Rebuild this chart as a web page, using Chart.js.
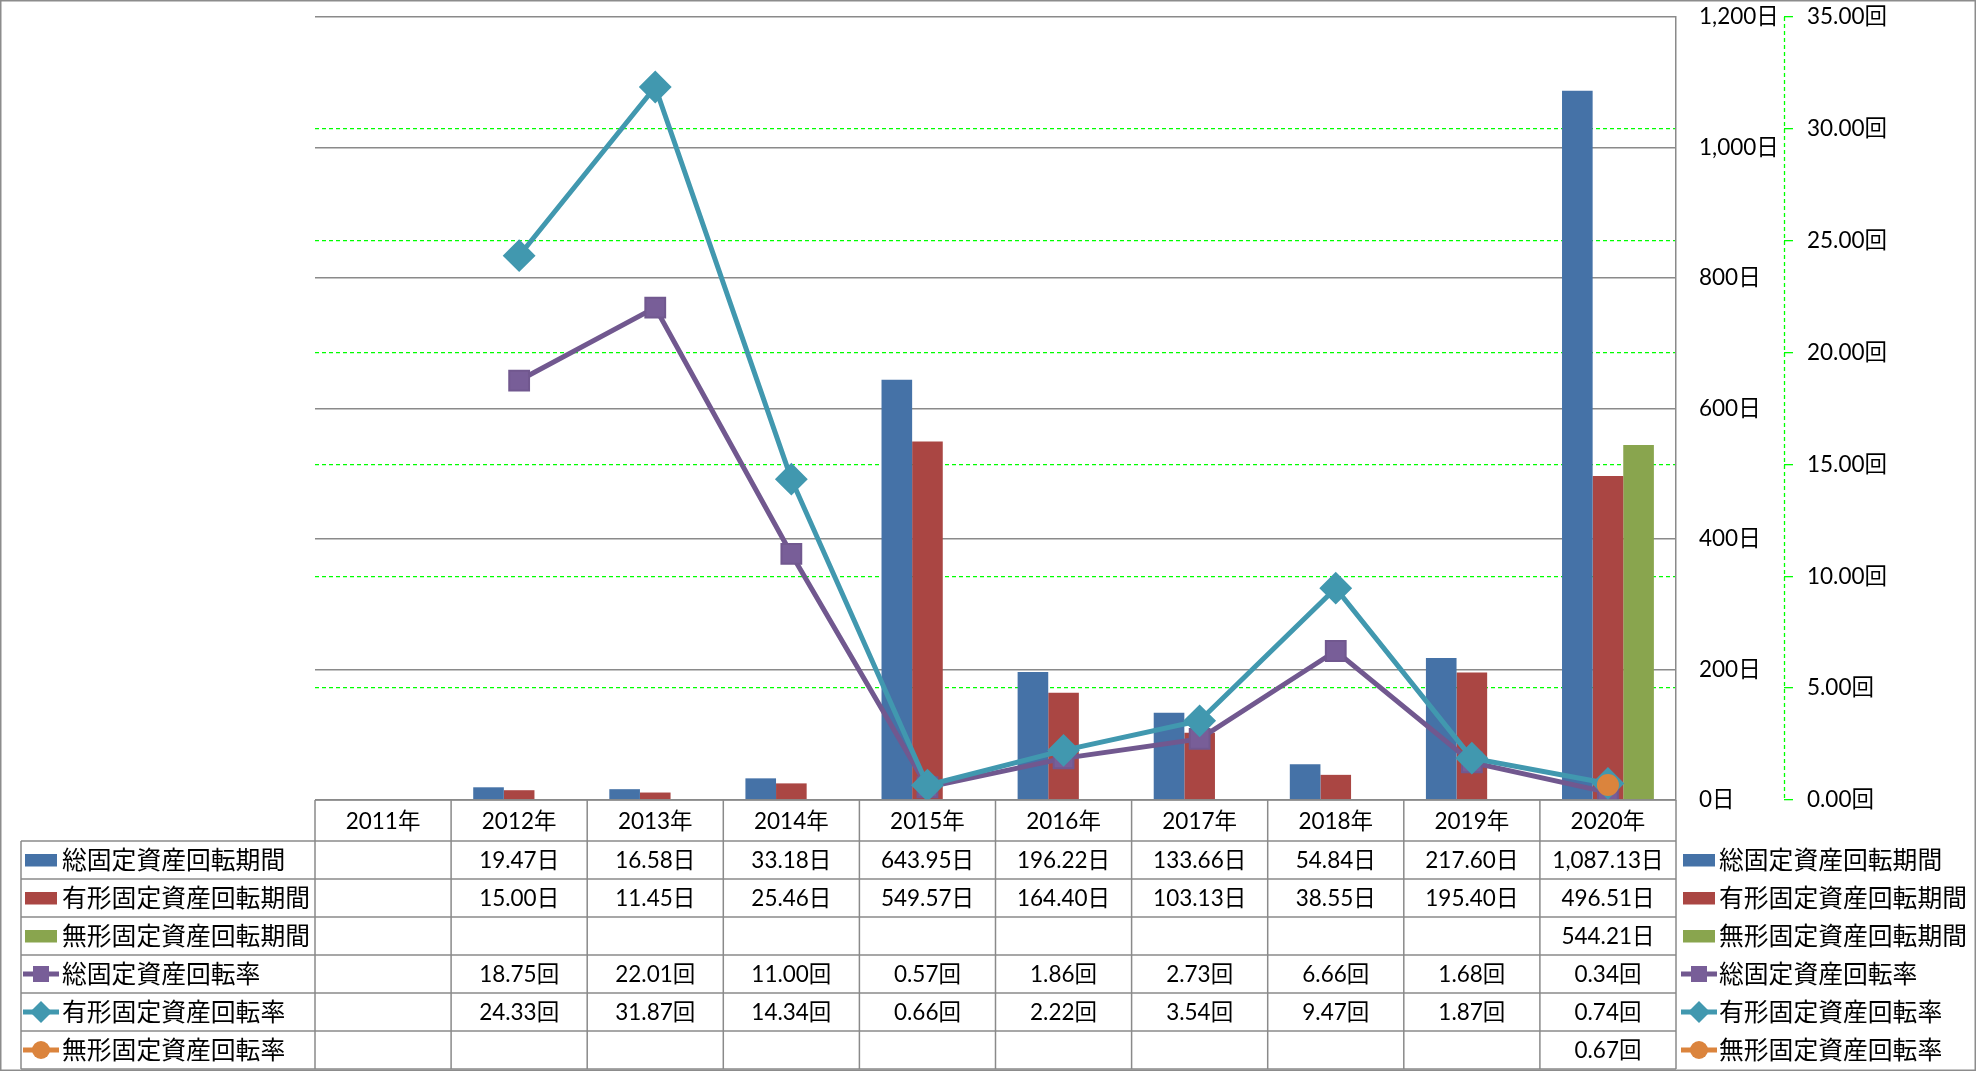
<!DOCTYPE html>
<html><head><meta charset="utf-8">
<script src="https://cdn.jsdelivr.net/npm/chart.js@4/dist/chart.umd.min.js"></script>
<style>html,body{margin:0;padding:0;background:#fff;}#wrap{width:1976px;height:1071px;position:relative;}</style>
</head><body><div id="wrap"><canvas id="c" width="1976" height="1071"></canvas></div>
<script>
const categories = ['2011年','2012年','2013年','2014年','2015年','2016年','2017年','2018年','2019年','2020年'];
const totalPeriod      = [null, 19.47, 16.58, 33.18, 643.95, 196.22, 133.66, 54.84, 217.60, 1087.13];
const tangiblePeriod   = [null, 15.00, 11.45, 25.46, 549.57, 164.40, 103.13, 38.55, 195.40, 496.51];
const intangiblePeriod = [null, null, null, null, null, null, null, null, null, 544.21];
const totalTurnover      = [null, 18.75, 22.01, 11.00, 0.57, 1.86, 2.73, 6.66, 1.68, 0.34];
const tangibleTurnover   = [null, 24.33, 31.87, 14.34, 0.66, 2.22, 3.54, 9.47, 1.87, 0.74];
const intangibleTurnover = [null, null, null, null, null, null, null, null, null, 0.67];
const seriesNames = ['総固定資産回転期間','有形固定資産回転期間','無形固定資産回転期間','総固定資産回転率','有形固定資産回転率','無形固定資産回転率'];
const dayTicks  = [0, 200, 400, 600, 800, 1000, 1200];
const rateTicks = [0, 5, 10, 15, 20, 25, 30, 35];

const C = {blue:'#4572A7', red:'#AA4643', green:'#89A54E', purple:'#71588F', purpleFill:'#785e98', teal:'#4198AF', orange:'#DB843D'};
const GRID = '#8a8a8a';
const NUMFONT = "22.5px Lato, 'Noto Sans CJK JP', sans-serif";
const JPFONT = "24.8px 'Noto Sans CJK JP', sans-serif";

const fmtDay = v => v.toLocaleString('en-US',{minimumFractionDigits:2,maximumFractionDigits:2}) + '日';
const fmtRate = v => v.toFixed(2) + '回';

const tableRows = [
  {name: seriesNames[0], data: totalPeriod, fmt: fmtDay, kind:'bar', color:C.blue},
  {name: seriesNames[1], data: tangiblePeriod, fmt: fmtDay, kind:'bar', color:C.red},
  {name: seriesNames[2], data: intangiblePeriod, fmt: fmtDay, kind:'bar', color:C.green},
  {name: seriesNames[3], data: totalTurnover, fmt: fmtRate, kind:'rect', color:C.purple, fill:C.purpleFill},
  {name: seriesNames[4], data: tangibleTurnover, fmt: fmtRate, kind:'diamond', color:C.teal, fill:C.teal},
  {name: seriesNames[5], data: intangibleTurnover, fmt: fmtRate, kind:'circle', color:C.orange, fill:C.orange},
];

function drawSwatch(ctx, r, cx, cy) {
  ctx.save();
  if (r.kind === 'bar') {
    ctx.fillStyle = r.color;
    ctx.fillRect(cx - 16, cy - 6, 32, 12.5);
  } else {
    ctx.strokeStyle = r.color; ctx.lineWidth = 5;
    ctx.beginPath(); ctx.moveTo(cx - 18, cy); ctx.lineTo(cx + 18, cy); ctx.stroke();
    ctx.fillStyle = r.fill;
    ctx.beginPath();
    if (r.kind === 'rect') { ctx.rect(cx - 8, cy - 8, 16, 16); }
    else if (r.kind === 'diamond') { ctx.moveTo(cx, cy - 11); ctx.lineTo(cx + 11, cy); ctx.lineTo(cx, cy + 11); ctx.lineTo(cx - 11, cy); ctx.closePath(); }
    else { ctx.arc(cx, cy, 9, 0, Math.PI * 2); }
    ctx.fill();
  }
  ctx.restore();
}

const tablePlugin = {
  id: 'dataTable',
  afterDraw(chart) {
    const ctx = chart.ctx;
    const xs = chart.scales.x;
    const ca = chart.chartArea;
    const n = categories.length;
    const colW = (xs.right - xs.left) / n;
    const top = ca.bottom;
    const headerB = top + 41;
    const rowH = 38;
    const bottom = headerB + rowH * tableRows.length;
    const legL = 21;
    ctx.save();
    const y2 = chart.scales.y2;
    ctx.strokeStyle = '#00ff00'; ctx.lineWidth = 1.3; ctx.setLineDash([4,3]);
    ctx.beginPath(); ctx.moveTo(Math.round(y2.left) + 0.5, ca.top); ctx.lineTo(Math.round(y2.left) + 0.5, ca.bottom); ctx.stroke();
    ctx.setLineDash([]);
    ctx.strokeStyle = GRID; ctx.lineWidth = 1.5;
    ctx.beginPath();
    ctx.moveTo(xs.left, top); ctx.lineTo(xs.right, top);
    for (let i = 0; i <= tableRows.length; i++) {
      const y = headerB + rowH * i;
      ctx.moveTo(legL, y); ctx.lineTo(xs.right, y);
    }
    for (let i = 0; i <= n; i++) {
      const x = xs.left + colW * i;
      ctx.moveTo(x, top); ctx.lineTo(x, bottom);
    }
    ctx.moveTo(legL, headerB); ctx.lineTo(legL, bottom);
    ctx.stroke();
    ctx.strokeStyle = '#8c8c8c'; ctx.lineWidth = 1.5;
    ctx.strokeRect(0.75, 0.75, chart.width - 1.5, chart.height - 1.5);
    ctx.fillStyle = '#000'; ctx.textBaseline = 'middle'; ctx.textAlign = 'center';
    ctx.font = NUMFONT;
    categories.forEach((c, i) => {
      ctx.fillText(c, xs.getPixelForValue(i), (top + headerB) / 2 + 1);
    });
    tableRows.forEach((r, ri) => {
      const cy = headerB + rowH * ri + rowH / 2;
      ctx.font = NUMFONT; ctx.textAlign = 'center'; ctx.fillStyle = '#000';
      r.data.forEach((v, i) => {
        if (v === null) return;
        ctx.fillText(r.fmt(v), xs.getPixelForValue(i), cy + 1);
      });
      drawSwatch(ctx, r, 41, cy);
      drawSwatch(ctx, r, 1699, cy);
      ctx.font = JPFONT; ctx.textAlign = 'left'; ctx.fillStyle = '#000';
      ctx.fillText(r.name, 62, cy);
      ctx.fillText(r.name, 1719, cy);
    });
    ctx.restore();
  }
};

const lineBase = {type:'line', yAxisID:'y2', borderWidth:5, tension:0, pointBorderWidth:2, pointHoverRadius:0};

new Chart(document.getElementById('c'), {
  data: {
    labels: categories,
    datasets: [
      {type:'bar', label: seriesNames[0], data: totalPeriod, backgroundColor: C.blue, yAxisID:'y', order:10, categoryPercentage:0.675, barPercentage:1},
      {type:'bar', label: seriesNames[1], data: tangiblePeriod, backgroundColor: C.red, yAxisID:'y', order:10, categoryPercentage:0.675, barPercentage:1},
      {type:'bar', label: seriesNames[2], data: intangiblePeriod, backgroundColor: C.green, yAxisID:'y', order:10, categoryPercentage:0.675, barPercentage:1},
      Object.assign({}, lineBase, {label: seriesNames[3], data: totalTurnover, borderColor:C.purple, pointStyle:'rect', pointRadius:14, pointBackgroundColor:C.purpleFill, pointBorderColor:C.purple, order:3}),
      Object.assign({}, lineBase, {label: seriesNames[4], data: tangibleTurnover, borderColor:C.teal, pointStyle:'rectRot', pointRadius:15, pointBackgroundColor:C.teal, pointBorderColor:C.teal, order:2}),
      Object.assign({}, lineBase, {label: seriesNames[5], data: intangibleTurnover, borderColor:C.orange, pointStyle:'circle', pointRadius:10, pointBackgroundColor:C.orange, pointBorderColor:C.orange, order:1}),
    ]
  },
  options: {
    responsive:false, animation:false, devicePixelRatio:1,
    layout: {padding: {left:315, top:16, right:0, bottom:271}},
    plugins: {legend:{display:false}, tooltip:{enabled:false}},
    scales: {
      x: {display:false, offset:true},
      y: {
        position:'right', weight:0, min:0, max:1200,
        afterBuildTicks: s => { s.ticks = dayTicks.map(v => ({value:v})); },
        afterFit: s => { s.width = 108; s.paddingTop = 0; s.paddingBottom = 0; },
        grid: {color: GRID, lineWidth:1.5, drawTicks:false},
        border: {display:true, color: GRID, width:1.5},
        ticks: {padding:23, color:'#000', font:{family:"Lato, 'Noto Sans CJK JP', sans-serif", size:22.5},
                callback: v => v.toLocaleString('en-US') + '日'}
      },
      y2: {
        position:'right', weight:1, min:0, max:35,
        afterBuildTicks: s => { s.ticks = rateTicks.map(v => ({value:v})); },
        afterFit: s => { s.width = 192; s.paddingTop = 0; s.paddingBottom = 0; },
        grid: {drawOnChartArea:true, lineWidth:1.3, tickLength:9, tickColor:'#00ff00', tickWidth:1.3,
               color: c => (c.tick && (c.tick.value === 0 || c.tick.value === 35)) ? 'rgba(0,0,0,0)' : '#00ff00'},
        border: {display:false, dash:[4,3]},
        ticks: {padding:14, color:'#000', font:{family:"Lato, 'Noto Sans CJK JP', sans-serif", size:22.5},
                callback: v => v.toFixed(2) + '回'}
      }
    }
  },
  plugins: [tablePlugin]
});
</script></body></html>
